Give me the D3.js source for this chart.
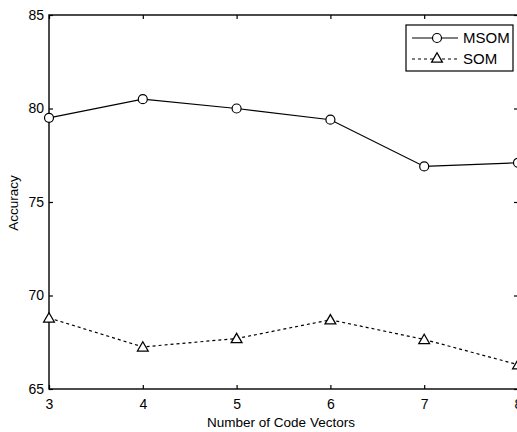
<!DOCTYPE html>
<html lang="en">
<head>
    <meta charset="UTF-8">
    <title>Accuracy vs Number of Code Vectors</title>
    <script src="https://cdnjs.cloudflare.com/ajax/libs/d3/7.8.5/d3.min.js"></script>
    <style>
        body { margin: 0; background: #fff; }
        svg { display: block; }
        text { font-family: 'Liberation Sans', Arial, sans-serif; fill: #000; }
    </style>
</head>
<body>
    <div id="chart"></div>
    <script>
        // data
        const codeVectors = [3, 4, 5, 6, 7, 8];
        const msom = [79.5, 80.5, 80.0, 79.4, 76.9, 77.1];
        const som = [68.8, 67.25, 67.7, 68.7, 67.65, 66.3];
        const yTicks = [65, 70, 75, 80, 85];

        const width = 517, height = 432;
        const margin = {top: 15, right: -1, bottom: 43, left: 49};

        const svg = d3.select("#chart").append("svg")
            .attr("width", width)
            .attr("height", height);

        const x = d3.scaleLinear().domain([3, 8]).range([margin.left, width - margin.right]);
        const y = d3.scaleLinear().domain([65, 85]).range([height - margin.bottom, margin.top]);

        // frame
        svg.append("rect")
            .attr("x", x(3)).attr("y", y(85))
            .attr("width", x(8) - x(3)).attr("height", y(65) - y(85))
            .attr("fill", "none").attr("stroke", "#000").attr("stroke-width", 1.4);

        // axes with inward ticks
        const bottom = svg.append("g")
            .attr("transform", `translate(0,${y(65)})`)
            .call(d3.axisBottom(x).tickValues(codeVectors).tickFormat(d3.format("d")).tickSizeInner(-4).tickSizeOuter(0));
        bottom.selectAll("text").attr("y", 10).attr("dy", "0.71em").style("font-size", "14px");

        const left = svg.append("g")
            .attr("transform", `translate(${x(3)},0)`)
            .call(d3.axisLeft(y).tickValues(yTicks).tickSizeInner(-4).tickSizeOuter(0));
        left.selectAll("text").attr("x", -5).style("font-size", "14px");

        svg.append("g")
            .attr("transform", `translate(0,${y(85)})`)
            .call(d3.axisTop(x).tickValues(codeVectors).tickFormat("").tickSizeInner(-4).tickSizeOuter(0));
        svg.append("g")
            .attr("transform", `translate(${x(8)},0)`)
            .call(d3.axisRight(y).tickValues(yTicks).tickFormat("").tickSizeInner(-4).tickSizeOuter(0));

        svg.selectAll(".domain").remove();
        svg.selectAll(".tick line").attr("stroke", "#000").attr("stroke-width", 1.2);

        // axis labels
        svg.append("text")
            .attr("x", 281).attr("y", 427)
            .attr("text-anchor", "middle")
            .style("font-size", "13.5px")
            .text("Number of Code Vectors");
        svg.append("text")
            .attr("transform", `translate(18,203) rotate(-90)`)
            .attr("text-anchor", "middle")
            .style("font-size", "13.5px")
            .text("Accuracy");

        const line = d3.line().x((d, i) => x(codeVectors[i])).y(d => y(d));

        svg.append("path").datum(msom)
            .attr("d", line).attr("fill", "none")
            .attr("stroke", "#000").attr("stroke-width", 1.2);
        svg.append("path").datum(som)
            .attr("d", line).attr("fill", "none")
            .attr("stroke", "#000").attr("stroke-width", 1.2)
            .attr("stroke-dasharray", "3,3");

        const tri = d3.symbol().type(d3.symbolTriangle).size(50);

        svg.selectAll(".circ").data(msom).enter().append("circle")
            .attr("cx", (d, i) => x(codeVectors[i])).attr("cy", d => y(d))
            .attr("r", 4.5).attr("fill", "#fff")
            .attr("stroke", "#000").attr("stroke-width", 1.2);
        svg.selectAll(".tri").data(som).enter().append("path")
            .attr("d", tri)
            .attr("transform", (d, i) => `translate(${x(codeVectors[i])},${y(d) + 1})`)
            .attr("fill", "#fff").attr("stroke", "#000").attr("stroke-width", 1.3);

        // legend
        const lg = svg.append("g").attr("transform", "translate(406,25)");
        lg.append("rect").attr("width", 107).attr("height", 46)
            .attr("fill", "#fff").attr("stroke", "#000").attr("stroke-width", 1.2);
        const items = [{name: "MSOM", dash: null}, {name: "SOM", dash: "3,3"}];
        items.forEach((it, i) => {
            const cy = 13 + i * 21;
            lg.append("line").attr("x1", 6).attr("x2", 52).attr("y1", cy).attr("y2", cy)
                .attr("stroke", "#000").attr("stroke-width", 1.2)
                .attr("stroke-dasharray", it.dash);
            if (i === 0) {
                lg.append("circle").attr("cx", 31).attr("cy", cy).attr("r", 4.5)
                    .attr("fill", "#fff").attr("stroke", "#000").attr("stroke-width", 1.2);
            } else {
                lg.append("path").attr("d", tri)
                    .attr("transform", `translate(31,${cy})`)
                    .attr("fill", "#fff").attr("stroke", "#000").attr("stroke-width", 1.3);
            }
            lg.append("text").attr("x", 57).attr("y", cy).attr("dy", "0.36em")
                .style("font-size", "15px").text(it.name);
        });
    </script>
</body>
</html>
